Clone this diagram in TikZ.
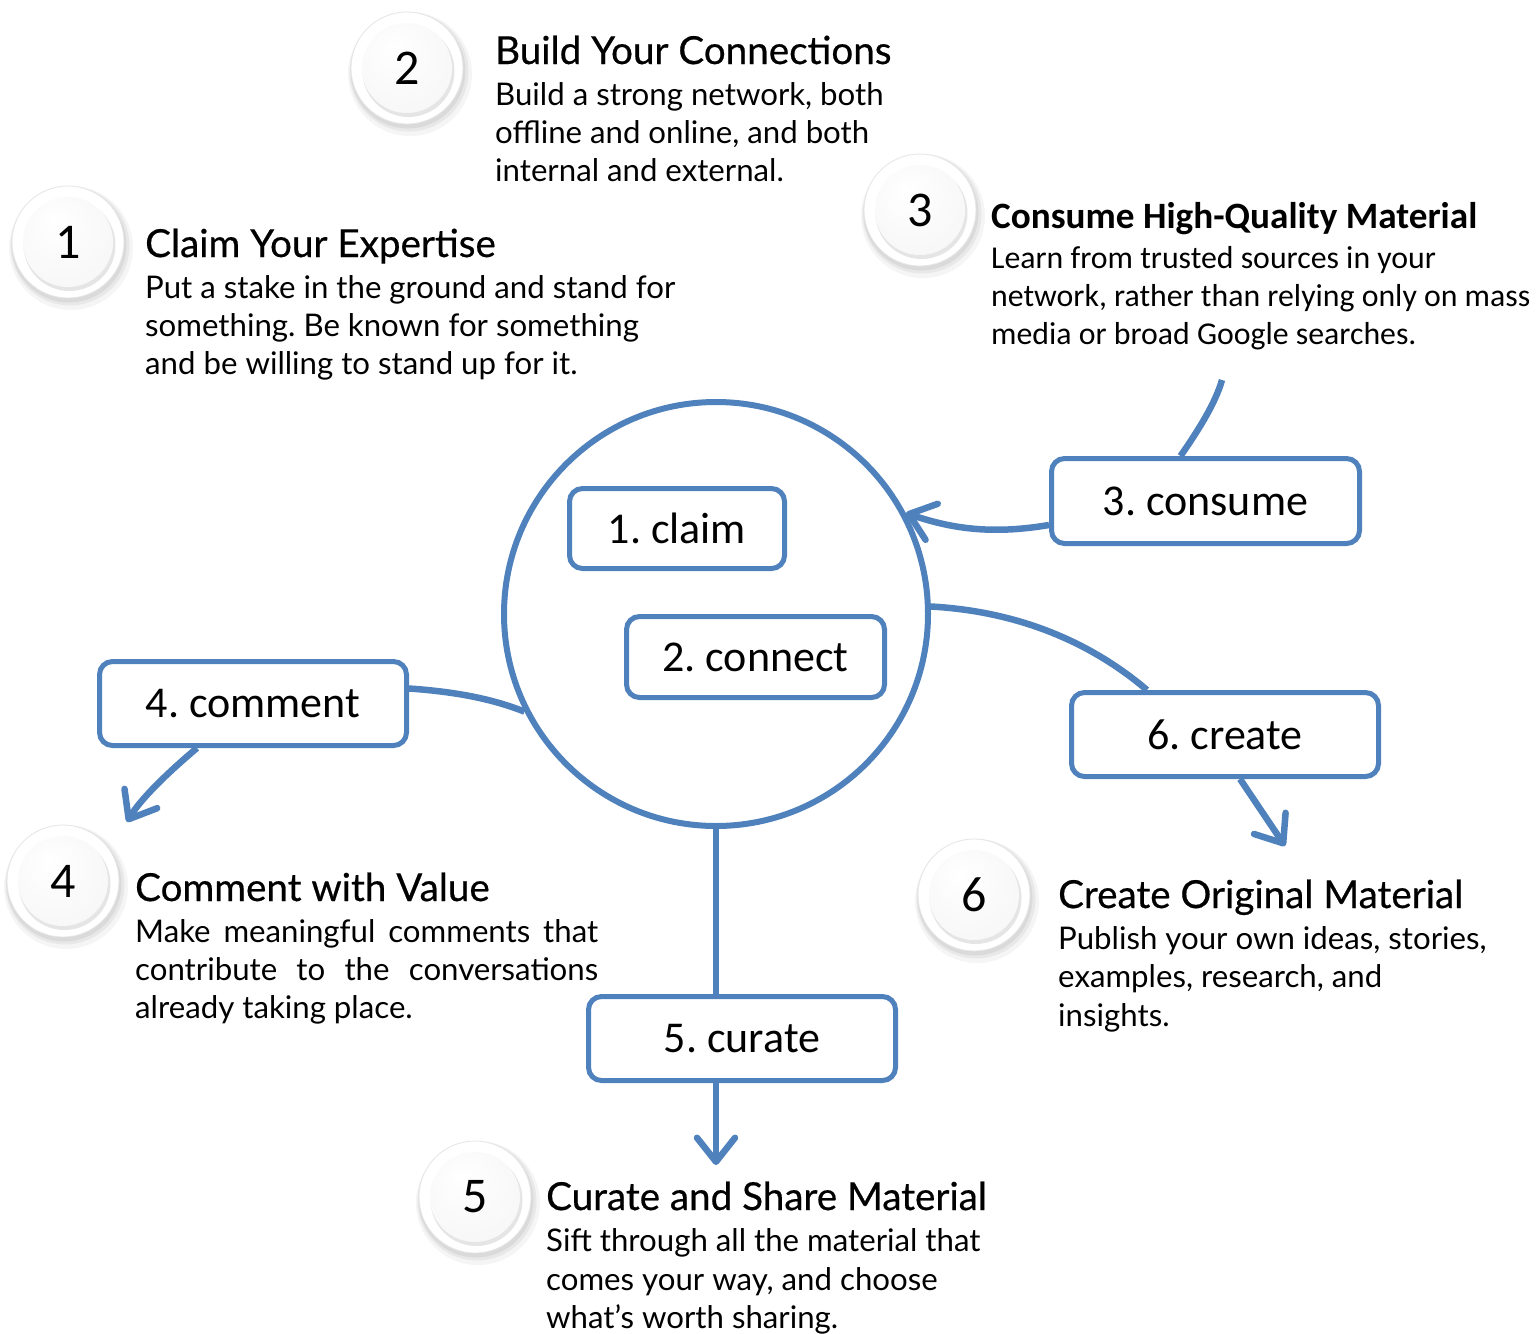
\documentclass[tikz,border=0pt]{standalone}
\usepackage{fontspec}
\setmainfont{Lato}
\newfontfamily\calfont{Carlito}
\usetikzlibrary{arrows.meta,calc}
\definecolor{ob}{HTML}{4F81BD}
\frenchspacing
\pgfdeclareradialshading{ringshade}{\pgfpoint{0bp}{0bp}}{color(0bp)=(white); color(38bp)=(white); color(46bp)=(white!92!black); color(50bp)=(white!80!black)}
\pgfdeclareradialshading{knobshade}{\pgfpoint{-8bp}{12bp}}{color(0bp)=(white); color(30bp)=(white!97!black); color(50bp)=(white!85!black)}
\newcommand\mybadge[4]{%
  \fill[black,opacity=0.04] (#2+3,#3+6) circle (62);
  \fill[black,opacity=0.05] (#2+2,#3+4) circle (59.5);
  \fill[black,opacity=0.06] (#2+1,#3+3) circle (57.5);
  \shade[shading=ringshade] (#2,#3) circle (56);
  \draw[white!90!black, line width=0.8pt] (#2,#3) circle (56);
  \fill[black,opacity=0.10] (#2+1.5,#3+3) circle (46);
  \node[circle, inner sep=0pt, minimum size=90pt, shading=knobshade,
        font=\calfont\fontsize{50}{52}\selectfont] (#1) at (#2,#3) {#4};
}
\tikzset{
  box/.style={draw=ob, line width=5pt, rounded corners=13pt, fill=white, inner sep=0pt,
              font=\calfont\fontsize{44}{50}\selectfont},
  conn/.style={draw=ob, line width=6.5pt},
  arr/.style={conn, -{Straight Barb[length=24pt,width=38pt,round]}},
  ttl/.style={anchor=base west, inner sep=0pt, font=\addfontfeature{FakeBold=0.5}\fontsize{38.6}{44}\selectfont},
  bdy/.style={anchor=base west, inner sep=0pt, font=\fontsize{31.2}{36}\selectfont},
  cttl/.style={anchor=base west, inner sep=0pt, font=\calfont\bfseries\fontsize{37.2}{44}\selectfont},
  cbdy/.style={anchor=base west, inner sep=0pt, font=\calfont\fontsize{31.8}{36}\selectfont},
}
\begin{document}
\begin{tikzpicture}[x=1pt,y=-1pt]
\useasboundingbox (0,0) rectangle (1539,1333);
\fill[white] (0,0) rectangle (1539,1333);

% hub and boxes
\node[circle, draw=ob, line width=6pt, minimum size=424pt, inner sep=0pt] (hub) at (716,614) {};
\node[box, minimum width=215pt, minimum height=80pt] (b1) at (677,528.5) {1. claim};
\node[box, minimum width=258pt, minimum height=81pt] (b2) at (755.5,657) {2. connect};
\node[box, minimum width=308pt, minimum height=85pt] (b3) at (1205.5,501) {3. consume};
\node[box, minimum width=307pt, minimum height=84pt] (b4) at (253,703.5) {4. comment};
\node[box, minimum width=307pt, minimum height=84pt] (b5) at (742,1038.5) {5. curate};
\node[box, minimum width=307pt, minimum height=84pt] (b6) at (1225,734.5) {6. create};

% connectors
\coordinate (c3top) at (1222,380);
\coordinate (c4) at (127,822);
\coordinate (c5) at (716,1165);
\coordinate (c6) at (1285,846);
\draw[conn] (hub.2) .. controls (1030,612) and (1100,650) .. ($(b6.north)+(-78,0)$);
\draw[conn] ($(b3.north)+(-25,0)$) .. controls (1195,435) and (1215,405) .. (c3top);
\draw[arr] ($(b3.west)+(0,24)$) .. controls (990,535) and (950,528) .. (hub.28);
\draw[conn] ($(b4.east)+(0,-15)$) .. controls (460,692) and (495,700) .. (hub.207);
\draw[arr] ($(b4.south)+(-56,0)$) .. controls (165,775) and (140,800) .. (c4);
\draw[conn] (hub.south) -- (hub.south |- b5.north);
\draw[arr] (b5.south -| hub.south) -- (c5);
\draw[arr] ($(b6.south)+(15,0)$) -- (c6);

% badges
\mybadge{n1}{68}{242}{1}
\mybadge{n2}{407}{68}{2}
\mybadge{n3}{920}{210}{3}
\mybadge{n4}{63}{881}{4}
\mybadge{n5}{475}{1197}{5}
\mybadge{n6}{974}{895}{6}

% texts
\node[ttl] (t2) at (495,64) {Build Your Connections};
\node[bdy] (t2a) at (495,105) {Build a strong network, both};
\node[bdy] (t2b) at (495,143) {offline and online, and both};
\node[bdy] (t2c) at (495,181) {internal and external.};

\node[ttl] (t1) at (145,257) {Claim Your Expertise};
\node[bdy] (t1a) at (145,298) {Put a stake in the ground and stand for};
\node[bdy] (t1b) at (145,336) {something. Be known for something};
\node[bdy] (t1c) at (145,374) {and be willing to stand up for it.};

\node[cttl] (t3) at (991,228) {Consume High-Quality Material};
\node[cbdy] (t3a) at (991,268) {Learn from trusted sources in your};
\node[cbdy] (t3b) at (991,306) {network, rather than relying only on mass};
\node[cbdy] (t3c) at (991,344) {media or broad Google searches.};

\node[ttl] (t4) at (135,901) {Comment with Value};
\node[bdy] (t4a) at (135,942) {\makebox[463pt][s]{Make meaningful comments that}};
\node[bdy] (t4b) at (135,980) {\makebox[463pt][s]{contribute to the conversations}};
\node[bdy] (t4c) at (135,1018) {already taking place.};

\node[ttl] (t5) at (546,1210) {Curate and Share Material};
\node[bdy] (t5a) at (546,1251) {Sift through all the material that};
\node[bdy] (t5b) at (546,1290) {comes your way, and choose};
\node[bdy] (t5c) at (546,1328) {what’s worth sharing.};

\node[ttl] (t6) at (1058,908) {Create Original Material};
\node[bdy] (t6a) at (1058,949) {Publish your own ideas, stories,};
\node[bdy] (t6b) at (1058,987) {examples, research, and};
\node[bdy] (t6c) at (1058,1026) {insights.};
\end{tikzpicture}
\end{document}
